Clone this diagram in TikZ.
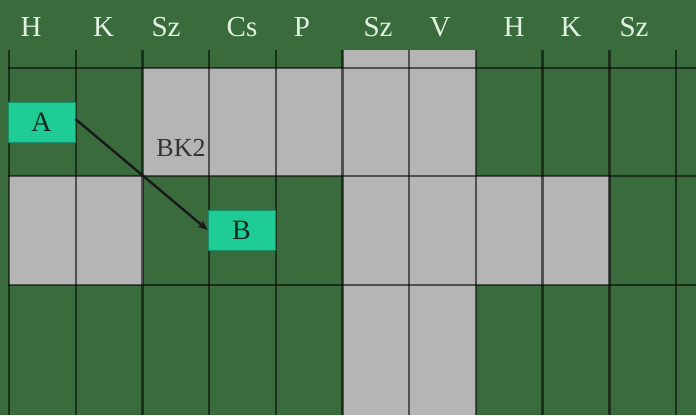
\documentclass[tikz,border=0pt]{standalone}
\usepackage{fontspec}
\setmainfont{Liberation Serif}
\usetikzlibrary{arrows.meta}
\definecolor{bg}{RGB}{58,107,60}
\definecolor{cellgray}{RGB}{181,181,181}
\definecolor{boxteal}{RGB}{32,204,150}
\definecolor{hdr}{RGB}{226,242,226}
\definecolor{txtdark}{RGB}{20,40,30}
\begin{document}
\begin{tikzpicture}[x=1pt,y=-1pt,
  gridline/.style={line width=2.4pt, black, opacity=0.55},
  hdrlabel/.style={anchor=base, text=hdr, inner sep=0pt, font=\fontsize{29}{32}\selectfont},
  cellbox/.style={fill=boxteal, draw=boxteal!70!black, line width=0.8pt, minimum width=67pt, minimum height=40pt, inner sep=0pt, text=txtdark, font=\fontsize{28}{30}\selectfont},
  conn/.style={line width=2.4pt, black!90, -{Stealth[length=10pt,width=8pt]}}]
\fill[bg] (0,0) rectangle (696,415);
\useasboundingbox (0,0) rectangle (696,415);
% gray cells
\fill[cellgray] (143,68) rectangle (343,176);
\fill[cellgray] (343,50) rectangle (476,415);
\fill[cellgray] (9,176) rectangle (143,285);
\fill[cellgray] (476,176) rectangle (609,285);
% grid
\foreach \k in {0,...,10} \draw[gridline] ({9+66.7*\k},50) -- ({9+66.7*\k},415);
\foreach \yy in {68,176,285} \draw[gridline] (8,\yy) -- (696,\yy);
% header
\node[hdrlabel] (h1) at (31,36) {H};
\node[hdrlabel] (h2) at (103.5,36) {K};
\node[hdrlabel] (h3) at (166,36) {Sz};
\node[hdrlabel] (h4) at (242,36) {Cs};
\node[hdrlabel] (h5) at (302,36) {P};
\node[hdrlabel] (h6) at (378,36) {Sz};
\node[hdrlabel] (h7) at (440,36) {V};
\node[hdrlabel] (h8) at (514,36) {H};
\node[hdrlabel] (h9) at (571,36) {K};
\node[hdrlabel] (h10) at (634,36) {Sz};
% boxes
\node[cellbox] (A) at (41.5,122) {A};
\node[cellbox] (B) at (241.5,230) {B};
\node[text=black!80, inner sep=0pt, font=\fontsize{26}{28}\selectfont] (bk) at (181,148) {BK2};
\draw[conn] ([yshift=3pt]A.east) -- (B.west);
\end{tikzpicture}
\end{document}
